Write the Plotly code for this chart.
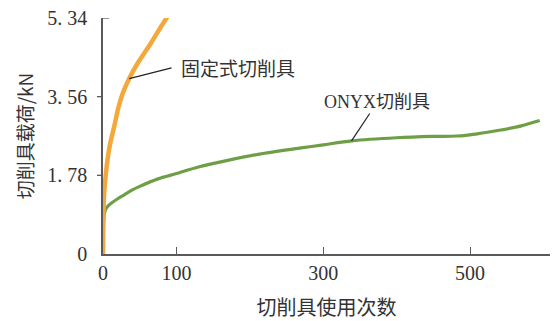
import plotly.graph_objects as go

# Data
fixed_x = [0, 0.3, 0.7, 1.6, 3.8, 6.1, 9.8, 15.2, 20.5, 26.6, 35.7, 47, 65.2, 83.5, 92]
fixed_y = [0, 0.5, 1.0, 1.37, 1.79, 2.13, 2.50, 2.88, 3.28, 3.62, 3.97, 4.31, 4.77, 5.26, 5.47]

onyx_x = [0, 0.5, 1, 2, 3.8, 7, 13, 20, 29, 40, 50, 75, 100, 130, 170, 220, 270, 300, 339, 400, 450, 482, 510, 540, 570, 595]
onyx_y = [0, 0.5, 0.78, 0.92, 1.02, 1.09, 1.17, 1.25, 1.34, 1.45, 1.53, 1.70, 1.82, 1.97, 2.12, 2.28, 2.40, 2.47, 2.56, 2.63, 2.66, 2.67, 2.72, 2.80, 2.90, 3.02]

x_ticks = [0, 100, 300, 500]
y_ticks = [0, 1.78, 3.56, 5.34]
y_ticktext = ["0", "1. 78", "3. 56", "5. 34"]

serif = "Liberation Serif, DejaVu Serif, serif"
cjk = "Noto Sans CJK SC, sans-serif"
axis_col = "#5a5a5a"
text_col = "#333333"

fig = go.Figure()
fig.add_trace(go.Scatter(x=onyx_x, y=onyx_y, mode="lines",
                         line=dict(color="#6E9E45", width=3.2, shape="spline", smoothing=0.8),
                         showlegend=False))
fig.add_trace(go.Scatter(x=fixed_x, y=fixed_y, mode="lines",
                         line=dict(color="#F4A83A", width=4.5, shape="spline", smoothing=0.8),
                         showlegend=False))

# Leader lines and labels
fig.add_shape(type="line", x0=35.7, y0=3.97, x1=93.4, y1=4.21, xref="x", yref="y",
              line=dict(color="#222222", width=1.2))
fig.add_annotation(x=103, y=4.21, xref="x", yref="y", text="固定式切削具",
                   showarrow=False, xanchor="left", yanchor="middle",
                   font=dict(family=cjk, size=19, color=text_col))

fig.add_shape(type="line", x0=338.6, y0=2.56, x1=363.4, y1=3.18, xref="x", yref="y",
              line=dict(color="#222222", width=1.2))
fig.add_annotation(x=298, y=3.48, xref="x", yref="y",
                   text="<span style='font-family:Liberation Serif'>ONYX</span>切削具",
                   showarrow=False, xanchor="left", yanchor="middle",
                   font=dict(family=cjk, size=18, color=text_col))

# y tick marks (outside at 1.78 / 3.56, inside cap at 5.34)
for yv, x0, x1 in [(1.78, -0.0135, 0), (3.56, -0.0135, 0), (5.34, 0, 0.0135)]:
    fig.add_shape(type="line", xref="paper", yref="y", x0=x0, x1=x1, y0=yv, y1=yv,
                  line=dict(color=axis_col, width=1.3))

fig.update_layout(
    width=553, height=321,
    margin=dict(l=103, r=3, t=18, b=67),
    plot_bgcolor="white", paper_bgcolor="white",
    xaxis=dict(range=[0, 609], tickvals=x_ticks, ticks="inside", ticklen=7,
               tickcolor=axis_col, showline=True, linecolor=axis_col, linewidth=1.5,
               showgrid=False, zeroline=False,
               tickfont=dict(family=serif, size=20, color=text_col),
               title=dict(text="切削具使用次数", font=dict(family=cjk, size=20, color=text_col),
                          standoff=18)),
    yaxis=dict(range=[0, 5.34], tickvals=y_ticks, ticktext=y_ticktext, ticks="",
               ticklabelstandoff=10, showline=True, linecolor=axis_col,
               linewidth=1.5, showgrid=False, zeroline=False,
               tickfont=dict(family=serif, size=20, color=text_col),
               title=dict(text="切削具载荷/kN", font=dict(family=cjk, size=19, color=text_col),
                          standoff=9)),
)

fig.write_html("out.html")
